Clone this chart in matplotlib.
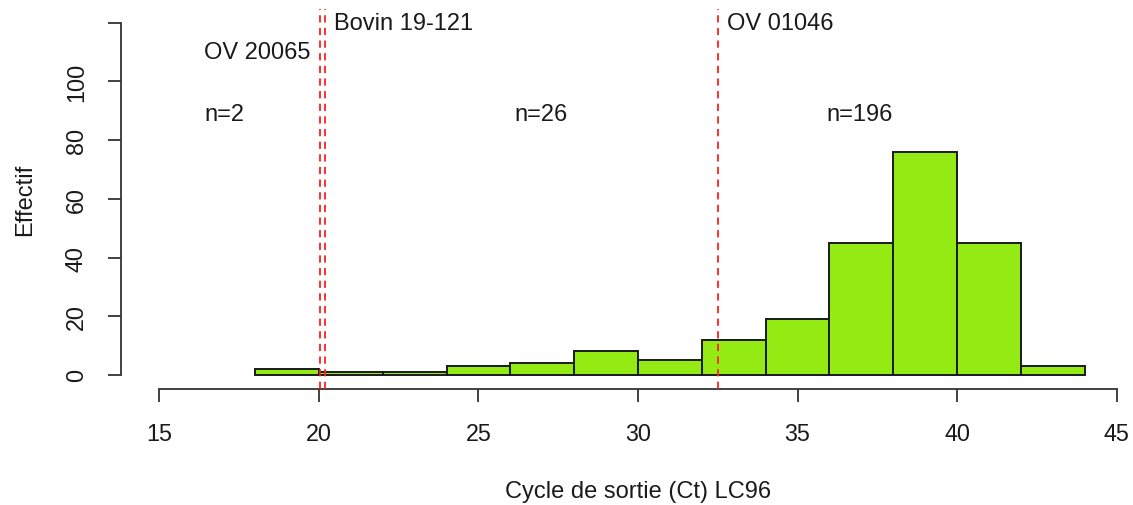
import numpy as np
import matplotlib
matplotlib.use('Agg')
import matplotlib.pyplot as plt

plt.rcParams['font.family'] = ['Liberation Sans', 'DejaVu Sans']

# Histogram data (bins of width 2, Ct values)
bin_left = [18, 20, 22, 24, 26, 28, 30, 32, 34, 36, 38, 40, 42]
counts = [2, 1, 1, 3, 4, 8, 5, 12, 19, 45, 76, 45, 3]
bin_width = 2

# Reference strains (vertical dashed lines)
ref_ct = [20.05, 20.2, 32.5]

# Annotations
labels = ['OV 20065', 'Bovin 19-121', 'OV 01046', 'n=2', 'n=26', 'n=196']
label_x = [16.4, 20.47, 32.8, 16.4, 26.14, 35.92]
label_y = [110, 120, 120, 89, 89, 89]

x_ticks = [15, 20, 25, 30, 35, 40, 45]
y_ticks = [0, 20, 40, 60, 80, 100, 120]
y_ticklabels = ['0', '20', '40', '60', '80', '100', '']

W, H = 1133, 506
fig = plt.figure(figsize=(W/100, H/100), dpi=100)
# plot region like R (4% expanded usr), extends past the right edge
ax = fig.add_axes([121/W, (H-390)/H, (1155-121)/W, (390-9.6)/H])

ax.bar(bin_left, counts, width=bin_width, align='edge',
       color='#94EB13', edgecolor='#1a1a1a', linewidth=1.4, zorder=2)

for xv in ref_ct:
    ax.axvline(xv, color='#FF2020', linestyle=(0, (4, 3)), linewidth=1.3, zorder=3)

for t, xv, yv in zip(labels, label_x, label_y):
    ax.text(xv, yv, t, ha='left', va='center', fontsize=17, color='#1a1a1a')

ax.set_xlim(13.8, 46.2)
ax.set_ylim(-4.8, 124.8)

for s in ['top', 'right']:
    ax.spines[s].set_visible(False)
ax.spines['left'].set_bounds(0, 120)
ax.spines['bottom'].set_bounds(15, 45)
for s in ['left', 'bottom']:
    ax.spines[s].set_linewidth(1.3)
    ax.spines[s].set_color('#333333')

ax.set_xticks(x_ticks)
ax.set_yticks(y_ticks)
ax.set_yticklabels(y_ticklabels, rotation=90, va='center')
ax.tick_params(axis='both', length=9.4, width=1.3, color='#333333',
               labelsize=16.8, labelcolor='#1a1a1a', pad=14.5)

ax.set_xlabel('Cycle de sortie (Ct) LC96', fontsize=17, color='#1a1a1a', labelpad=25)
ax.set_ylabel('Effectif', fontsize=17, color='#1a1a1a', labelpad=21)

fig.savefig('out.png', dpi=100)
